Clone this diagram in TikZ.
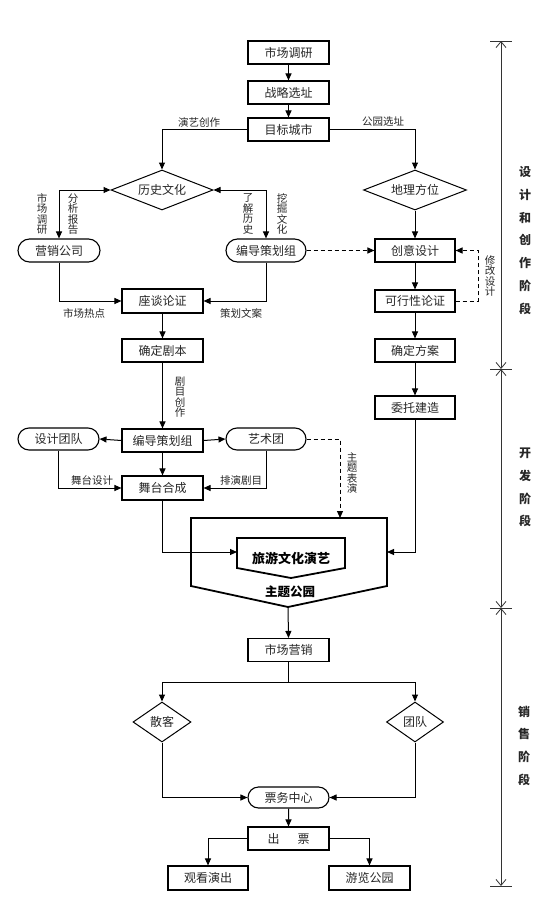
\documentclass[tikz,border=0pt]{standalone}
\usepackage{fontspec}
\setmainfont{Noto Sans CJK SC}
\usetikzlibrary{arrows.meta,shapes.geometric,shapes.misc}
\tikzset{
 base/.style={draw, line width=1.1pt, inner sep=0pt, font=\fontsize{12}{14}\selectfont, text=black!85},
 rbox/.style={base, rectangle, minimum width=81pt, minimum height=23pt},
 sbox/.style={base, rounded rectangle, minimum width=81pt, minimum height=23pt},
 dia/.style={base, diamond, aspect=2.5, minimum width=#1, minimum height=40pt, line width=1pt},
 arr/.style={line width=1pt, -{Triangle[length=7pt,width=6pt]}},
 barr/.style={line width=1pt, {Triangle[length=7pt,width=6pt]}-{Triangle[length=7pt,width=6pt]}},
 darr/.style={arr, dash pattern=on 4pt off 3pt},
 lbl/.style={font=\fontsize{10.5}{10.5}\selectfont, text=black!85, inner sep=0pt},
 vlbl/.style={lbl, align=center},
 phase/.style={font=\fontsize{12}{22.7}\selectfont\bfseries, align=center, inner sep=0pt, text=black!85},
 pline/.style={line width=0.8pt, black!80},
 parr/.style={pline, {Straight Barb[length=6pt,width=10pt]}-{Straight Barb[length=6pt,width=10pt]}},
 pent/.style={line width=1.8pt, line join=miter}
}
\begin{document}
\begin{tikzpicture}[x=1pt,y=-1pt]
\useasboundingbox (0,0) rectangle (550,923);
% top chain
\node[rbox] (sc) at (288.5,52.5) {市场调研};
\node[rbox] (zl) at (288.5,92.5) {战略选址};
\node[rbox] (mb) at (288.5,129.5) {目标城市};
\node[dia=102pt] (ls) at (162,190) {历史文化};
\node[dia=103pt] (dl) at (415,190) {地理方位};
\node[sbox, minimum width=82pt] (yx) at (59,250.5) {营销公司};
\node[sbox, minimum width=80pt] (bd1) at (266,250.5) {编导策划组};
\node[rbox, minimum width=80pt] (cy) at (415,250.5) {创意设计};
\node[rbox, minimum height=24pt] (zt) at (162.5,301) {座谈论证};
\node[rbox, minimum width=80pt, minimum height=22pt] (kx) at (415,301) {可行性论证};
\node[rbox] (qj) at (162.5,350.5) {确定剧本};
\node[rbox, minimum width=80pt] (qf) at (415,350.5) {确定方案};
\node[rbox, minimum width=80pt] (wt) at (415,407.5) {委托建造};
\node[rbox] (bd2) at (162.5,440.5) {编导策划组};
\node[sbox, minimum height=22pt] (sj) at (58.5,439) {设计团队};
\node[sbox, minimum width=80pt, minimum height=22pt] (ys) at (266,439) {艺术团};
\node[rbox, minimum height=24pt] (wh) at (162.5,488) {舞台合成};

% theme park pentagons
\draw[pent] (191,518) -- (387,518) -- (387,586) -- (288,607) -- (191,586) -- cycle;
\draw[pent] (237,538) -- (345,538) -- (345,568) -- (291,578) -- (237,568) -- cycle;
\coordinate (otop) at (340,518);
\coordinate (oright) at (387,552);
\coordinate (obot) at (288,607);
\coordinate (ileft) at (237,552);
\node[font=\fontsize{13}{15}\selectfont\bfseries, inner sep=0pt] (lywh) at (291,558) {旅游文化演艺};
\node[font=\fontsize{12.5}{15}\selectfont\bfseries, inner sep=0pt] (ztgy) at (290,592) {主题公园};

\node[rbox] (yxm) at (288.5,650) {市场营销};
\node[base, diamond, aspect=1.5, minimum width=58pt, minimum height=40pt, line width=1pt] (sk) at (162,722) {散客};
\node[base, diamond, aspect=1.5, minimum width=57pt, minimum height=40pt, line width=1pt] (td) at (415,722) {团队};
\node[sbox, minimum height=21pt] (pw) at (288.5,797.5) {票务中心};
\node[rbox] (cp) at (288.5,838.5) {出\hspace{1.5em}票};
\node[rbox, minimum width=80pt, minimum height=24pt] (gk) at (208,878) {观看演出};
\node[rbox, minimum height=24pt] (yl) at (369.5,878) {游览公园};

% connectors top
\draw[arr] (sc) -- (zl);
\draw[arr] (zl) -- (mb);
\draw[arr] (mb.west) -| (ls.north);
\draw[arr] (mb.east) -| (dl.north);
\node[lbl] (l1) at (199,122) {演艺创作};
\node[lbl] (l2) at (383,122) {公园选址};
\draw[barr] (ls.west) -| (yx.north);
\draw[barr] (ls.east) -| (bd1.north);
\node[vlbl] (v1) at (42,214) {市\\场\\调\\研};
\node[vlbl] (v2) at (73,214) {分\\析\\报\\告};
\node[vlbl] (v3) at (248,214) {了\\解\\历\\史};
\node[vlbl] (v4) at (282,214) {挖\\掘\\文\\化};
\draw[arr] (dl) -- (cy);
\draw[darr] (bd1.east) -- (cy.west);
\coordinate (fb) at (478,301);
\draw[darr] (kx.east) -- (fb) |- (cy.east);
\node[vlbl] (v5) at (490,276) {修\\改\\设\\计};
\draw[arr] (cy) -- (kx);
\draw[arr] (kx) -- (qf);
\draw[arr] (qf) -- (wt);
\draw[arr] (yx.south) |- (zt.west);
\draw[arr] (bd1.south) |- (zt.east);
\node[lbl] (l3) at (84,313) {市场热点};
\node[lbl] (l4) at (241,313) {策划文案};
\draw[arr] (zt) -- (qj);
\draw[arr] (qj) -- (bd2);
\node[vlbl] (v6) at (180,397) {剧\\目\\创\\作};
\draw[arr] (bd2.west) -- (sj.east);
\draw[arr] (bd2.east) -- (ys.west);
\draw[arr] (bd2) -- (wh);
\draw[arr] (sj.south) |- (wh.west);
\draw[arr] (ys.south) |- (wh.east);
\node[lbl] (l5) at (92,480) {舞台设计};
\node[lbl] (l6) at (241,480) {排演剧目};
\draw[darr] (ys.east) -| (otop);
\node[vlbl] (v7) at (352,473) {主\\题\\表\\演};
\draw[arr] (wh.south) |- (ileft);
\draw[arr] (wt.south) |- (oright);
\draw[arr] (obot) -- (yxm.north);
% sales
\coordinate (split) at (288.5,682);
\draw[line width=1pt] (yxm.south) -- (split);
\draw[arr] (split) -| (sk.north);
\draw[arr] (split) -| (td.north);
\draw[arr] (sk.south) |- (pw.west);
\draw[arr] (td.south) |- (pw.east);
\draw[arr] (pw) -- (cp);
\draw[arr] (cp.west) -| (gk.north);
\draw[arr] (cp.east) -| (yl.north);

% phase bar
\coordinate (p0) at (501,41);
\coordinate (p1) at (501,369);
\coordinate (p2) at (501,608);
\coordinate (p3) at (501,886);
\foreach \p in {p0,p1,p2,p3} \draw[pline] ([xshift=-11pt]\p) -- ([xshift=11pt]\p);
\draw[parr] (p0) -- ([yshift=0pt]p1);
\draw[parr] (p1) -- (p2);
\draw[parr] (p2) -- (p3);
\node[phase] (ph1) at (525,240.5) {设\\计\\和\\创\\作\\阶\\段};
\node[phase] (ph2) at (525,487.5) {开\\发\\阶\\段};
\node[phase] (ph3) at (524,745.5) {销\\售\\阶\\段};
\end{tikzpicture}
\end{document}
